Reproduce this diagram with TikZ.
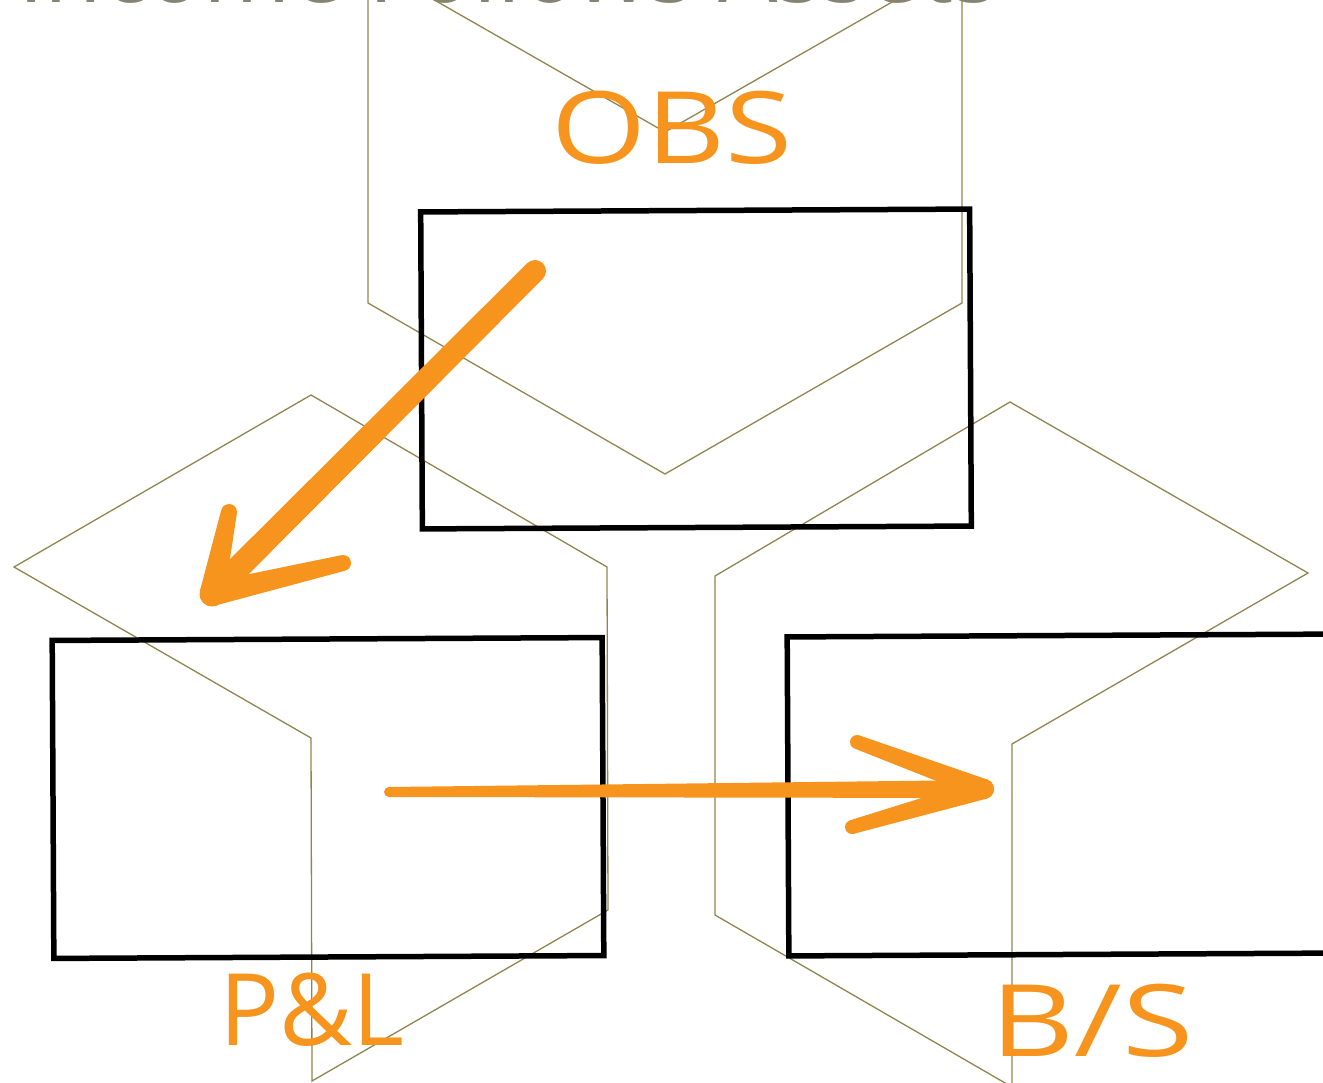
\documentclass[tikz,border=0pt]{standalone}
\usepackage{fontspec}
\setmainfont{Open Sans}
\usetikzlibrary{calc}

\definecolor{hexline}{HTML}{928451}
\definecolor{marker}{HTML}{F7941D}
\definecolor{titlegray}{HTML}{858474}

% a marker stroke that tapers from half-width #3 at #1 to half-width #4 at #2
\newcommand\taperstroke[4]{%
  \fill[marker] ($(#1)!#3!90:(#2)$) -- ($(#2)!#4!-90:(#1)$)
               -- ($(#2)!#4!90:(#1)$) -- ($(#1)!#3!-90:(#2)$) -- cycle;
  \fill[marker] (#1) circle[radius=#3];
  \fill[marker] (#2) circle[radius=#4];}

\begin{document}
\begin{tikzpicture}[x=1pt,y=-1pt,
  chev/.style={draw=hexline, line width=1.3pt, line join=miter},
  box/.style={draw=black, line width=5.5pt, rectangle, inner sep=0pt, line join=miter},
  hand/.style={text=marker, inner sep=0pt, font=\fontsize{100}{100}\selectfont}]
\useasboundingbox (0,0) rectangle (1323,1083);
\clip (0,0) rectangle (1323,1083);

% heading, cut by the top edge
\node[anchor=base west, text=titlegray, inner sep=0pt,
      font=\fontsize{94}{94}\selectfont] (title) at (18,3) {Income Follows Assets};

% three chevrons
\draw[chev] (368,-38) -- (368,303) -- (665,474) -- (962,303) -- (962,-38) -- (665,132) -- cycle;
\draw[chev] (14,567) -- (311,395) -- (607,567) -- (608,910) -- (312,1081) -- (311,738) -- cycle;
\draw[chev] (1010,402) -- (1308,573) -- (1012,744) -- (1012,1087) -- (715,915) -- (715,576) -- cycle;

% statement boxes
\node[box, rotate=0.3, minimum width=549pt, minimum height=317pt] (obsbox) at (696,369) {};
\node[box, rotate=0.3, minimum width=550pt, minimum height=318pt] (plbox) at (328,798) {};
\node[box, rotate=0.3, minimum width=550pt, minimum height=319pt] (bsbox) at (1063,795) {};

% labels
\node[hand] (obs) at (672,128) {\scalebox{1.22}[1]{OBS}};
\node[hand] (pl) at (312,1010) {P\&L};
\node[hand] (bs) at (1092,1021) {\scalebox{1.3}[1]{B/S}};

% arrow OBS -> P&L
\coordinate (d0) at (535,271);
\coordinate (d1) at (212,594);
\coordinate (d2) at (229,512);
\coordinate (d3) at (343,563);
\taperstroke{d0}{d1}{11pt}{12pt}
\taperstroke{d1}{d2}{12.5pt}{8pt}
\taperstroke{d1}{d3}{12pt}{8pt}

% arrow P&L -> B/S
\coordinate (h0) at (389,792);
\coordinate (h1) at (984,789);
\coordinate (h2) at (857,742);
\coordinate (h3) at (852,827);
\taperstroke{h0}{h1}{5pt}{9pt}
\taperstroke{h1}{h2}{10pt}{7pt}
\taperstroke{h1}{h3}{10pt}{7pt}
\end{tikzpicture}
\end{document}
